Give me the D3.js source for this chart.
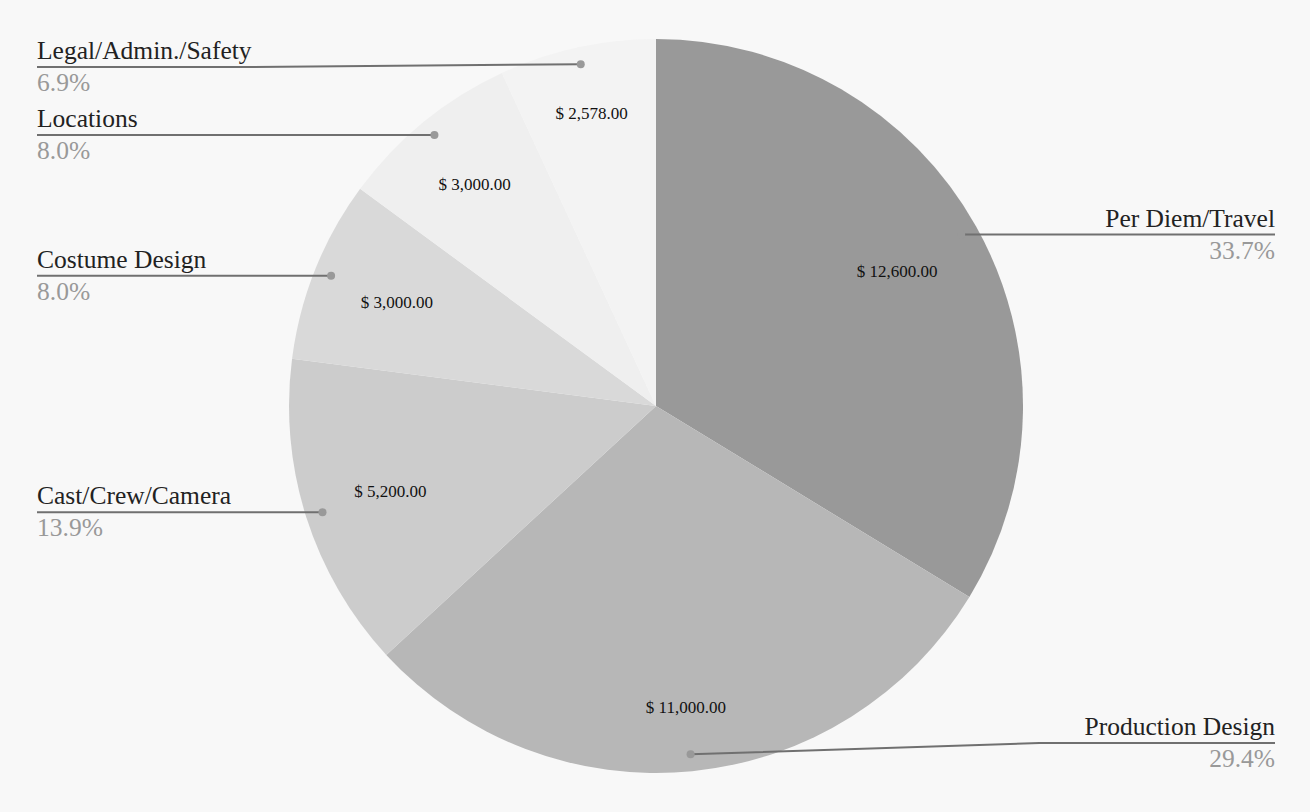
<!DOCTYPE html>
<html>
<head>
<meta charset="utf-8">
<script src="https://cdn.jsdelivr.net/npm/d3@7"></script>
<style>
  html, body { margin: 0; padding: 0; background: #f8f8f8; }
  svg { display: block; }
  text { font-family: "Liberation Serif", "Times New Roman", serif; }
</style>
</head>
<body>
<svg id="chart" width="1310" height="812"></svg>
<script>
const categories = ["Per Diem/Travel", "Production Design", "Cast/Crew/Camera", "Costume Design", "Locations", "Legal/Admin./Safety"];
const values = [12600, 11000, 5200, 3000, 3000, 2578];
const colors = ["#999999", "#b7b7b7", "#cccccc", "#d9d9d9", "#efefef", "#f3f3f3"];

const W = 1310, H = 812;
const cx = 656, cy = 406, R = 367;
const dotR = 350, valueR = 315;
const leftX = 37, rightX = 1275;

const svg = d3.select("#chart");
svg.append("rect").attr("width", W).attr("height", H).attr("fill", "#f8f8f8");

const data = categories.map((c, i) => ({ name: c, value: values[i], color: colors[i] }));
const total = d3.sum(values);
const pie = d3.pie().sort(null).value(d => d.value);
const arcs = pie(data);
const arc = d3.arc().innerRadius(0).outerRadius(R);

const g = svg.append("g").attr("transform", `translate(${cx},${cy})`);
g.selectAll("path.slice").data(arcs).enter().append("path")
  .attr("class", "slice")
  .attr("d", arc)
  .attr("fill", d => d.data.color);

// value labels
const fmt = d3.format(",.2f");
arcs.forEach(a => {
  const mid = (a.startAngle + a.endAngle) / 2;
  const ux = Math.sin(mid), uy = -Math.cos(mid);
  const t = g.append("text")
    .attr("font-size", 17)
    .attr("fill", "#111")
    .attr("text-anchor", "middle")
    .text("$ " + fmt(a.data.value));
  const w = t.node().getComputedTextLength();
  const hw = w / 2, hh = 6;
  const sx = Math.sign(ux) * hw, sy = Math.sign(uy) * hh;
  const us = ux * sx + uy * sy;
  const ss = sx * sx + sy * sy;
  const tt = -us + Math.sqrt(us * us - ss + valueR * valueR);
  t.attr("x", tt * ux).attr("y", tt * uy + 6);
});

// outer labels
const items = arcs.map(a => {
  const mid = (a.startAngle + a.endAngle) / 2;
  const dx = cx + dotR * Math.sin(mid), dy = cy - dotR * Math.cos(mid);
  return { a, mid, dx, dy, side: mid < Math.PI ? "right" : "left", ly: dy };
});
["left", "right"].forEach(side => {
  const s = items.filter(d => d.side === side).sort((p, q) => p.dy - q.dy);
  let prev = -Infinity;
  s.forEach(d => {
    d.ly = Math.max(d.ly, 67, prev + 68);
    d.ly = Math.min(d.ly, 743);
    prev = d.ly;
  });
});

const lab = svg.append("g");
items.forEach(d => {
  const right = d.side === "right";
  const anchorX = right ? rightX : leftX;
  const name = lab.append("text")
    .attr("x", anchorX).attr("y", d.ly - 8)
    .attr("font-size", 25.5).attr("fill", "#222")
    .attr("text-anchor", right ? "end" : "start")
    .text(d.a.data.name);
  const tw = name.node().getComputedTextLength();
  lab.append("text")
    .attr("x", anchorX).attr("y", d.ly + 24)
    .attr("font-size", 25.5).attr("fill", "#999")
    .attr("text-anchor", right ? "end" : "start")
    .text(d3.format(".1%")(d.a.data.value / total));
  let bendX = right ? rightX - tw - 45 : leftX + tw;
  if (right) bendX = Math.max(bendX, d.dx); else bendX = Math.min(bendX, d.dx);
  const pts = [[anchorX, d.ly], [bendX, d.ly], [d.dx, d.dy]];
  lab.append("path")
    .attr("d", d3.line()(pts))
    .attr("fill", "none")
    .attr("stroke", "#707070")
    .attr("stroke-width", 2);
  lab.append("circle")
    .attr("cx", d.dx).attr("cy", d.dy).attr("r", 4)
    .attr("fill", "#999");
});
</script>
</body>
</html>
